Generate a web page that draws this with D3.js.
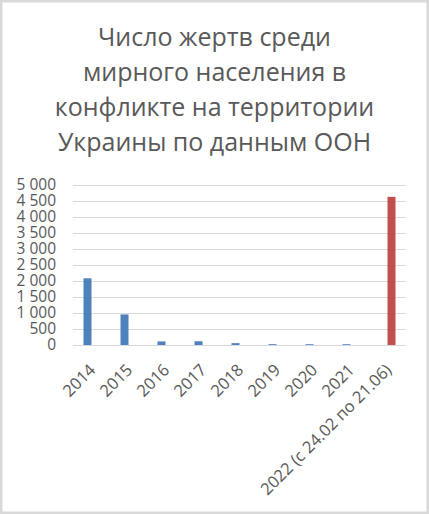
<!DOCTYPE html>
<html>
<head>
<meta charset="utf-8">
<script src="https://cdn.jsdelivr.net/npm/d3@7"></script>
<style>
  html, body { margin: 0; padding: 0; background: #fff; }
  svg { display: block; font-family: "Open Sans", "Noto Sans", sans-serif; }
</style>
</head>
<body>
<svg id="chart" width="429" height="514"></svg>
<script>
// data
var years = ["2014", "2015", "2016", "2017", "2018", "2019", "2020", "2021", "2022 (с 24.02 по 21.06)"];
var deathsBefore = [2084, 955, 112, 117, 58, 27, 26, 25, null];
var deaths2022 = [null, null, null, null, null, null, null, null, 4630];
var yTicks = [0, 500, 1000, 1500, 2000, 2500, 3000, 3500, 4000, 4500, 5000];
var titleLines = ["Число жертв среди", "мирного населения в", "конфликте на территории", "Украины по данным ООН"];

var seriesNames = ["before", "y2022"];
var seriesColor = { before: "#4f81bd", y2022: "#c0504d" };

var W = 429, H = 514;
var plot = { left: 73, right: 406, top: 185, bottom: 345 };

var svg = d3.select("#chart");

// frame
svg.append("rect")
    .attr("x", 1.25).attr("y", 1.25)
    .attr("width", W - 2.5).attr("height", H - 2.5)
    .attr("fill", "#fff")
    .attr("stroke", "#d9d9d9")
    .attr("stroke-width", 2.5);

// title
svg.append("g").selectAll("text")
    .data(titleLines)
    .enter()
    .append("text")
    .attr("x", W / 2)
    .attr("y", function(d, i) { return 46 + 35 * i; })
    .attr("text-anchor", "middle")
    .attr("fill", "#595959")
    .style("font-size", "25px")
    .text(function(d) { return d; });

var x = d3.scaleBand()
    .domain(years)
    .range([plot.left, plot.right]);

var xSub = d3.scaleBand()
    .domain(seriesNames)
    .range([0, 16]);

var y = d3.scaleLinear()
    .domain([0, 5000])
    .range([plot.bottom, plot.top]);

// gridlines
svg.append("g").selectAll("line")
    .data(yTicks)
    .enter()
    .append("line")
    .attr("x1", plot.left).attr("x2", plot.right)
    .attr("y1", function(d) { return Math.round(y(d)) + 0.5; })
    .attr("y2", function(d) { return Math.round(y(d)) + 0.5; })
    .attr("stroke", "#d9d9d9")
    .attr("stroke-width", 1);

// y axis labels
var fmt = function(d) { return d3.format(",")(d).replace(/,/g, " "); };
var yAxis = d3.axisLeft(y)
    .tickValues(yTicks)
    .tickSize(0)
    .tickPadding(0)
    .tickFormat(fmt);

var yg = svg.append("g")
    .attr("transform", "translate(56,0)")
    .call(yAxis);
yg.select(".domain").remove();
yg.selectAll("text")
    .attr("fill", "#595959")
    .style("font-size", "15.5px")
    .style("font-family", "'Open Sans', 'Noto Sans', sans-serif");

// bars
var rows = years.map(function(d, i) {
    return { year: d, before: deathsBefore[i], y2022: deaths2022[i] };
});

var groups = svg.append("g").selectAll("g")
    .data(rows)
    .enter()
    .append("g")
    .attr("transform", function(d) { return "translate(" + (x(d.year) + x.bandwidth() / 2 - 8) + ",0)"; });

groups.selectAll("rect")
    .data(function(d) {
        return seriesNames
            .filter(function(s) { return d[s] != null; })
            .map(function(s) { return { key: s, value: d[s] }; });
    })
    .enter()
    .append("rect")
    .attr("x", function(d) { return xSub(d.key); })
    .attr("width", xSub.bandwidth())
    .attr("y", function(d) { return y(d.value); })
    .attr("height", function(d) { return plot.bottom - y(d.value); })
    .attr("fill", function(d) { return seriesColor[d.key]; });

// x axis labels, rotated
svg.append("g").selectAll("text")
    .data(years)
    .enter()
    .append("text")
    .attr("transform", function(d) {
        return "translate(" + (x(d) + x.bandwidth() / 2 + 5) + "," + 371 + ") rotate(-45)";
    })
    .attr("text-anchor", "end")
    .attr("fill", "#595959")
    .style("font-size", "16.5px")
    .text(function(d) { return d; });
</script>
</body>
</html>
